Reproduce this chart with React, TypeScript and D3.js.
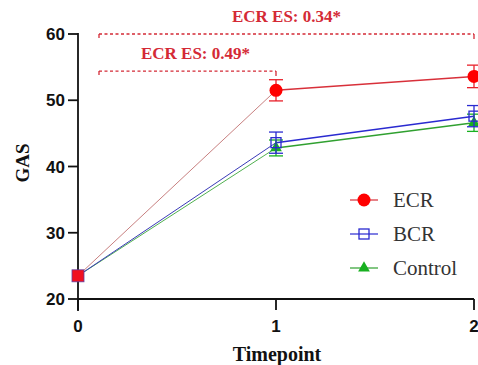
import React from "react";
import * as d3 from "d3";

// chart values
const timepoints = [0, 1, 2];
const groups = ["ECR", "BCR", "Control"];
const ecrMean = [23.5, 51.5, 53.6];
const ecrErr = [0, 1.6, 1.7];
const bcrMean = [23.5, 43.6, 47.6];
const bcrErr = [0, 1.6, 1.6];
const controlMean = [23.5, 42.8, 46.6];
const controlErr = [0, 1.2, 1.3];
const yTicks = [20, 30, 40, 50, 60];
const annotations = [
  { from: 0, to: 2, level: 60, label: "ECR ES: 0.34*" },
  { from: 0, to: 1, level: 54.4, label: "ECR ES: 0.49*" },
];

const W = 478;
const H = 365;
const annoColor = "#d42a36";
const serif = { fontFamily: "Liberation Serif" };
const sans = { fontFamily: "Liberation Sans" };

const series = [
  { name: groups[0], mean: ecrMean, err: ecrErr, color: "#e8202a", line: "#d8303a", first: "#c88080", shape: "circle" },
  { name: groups[1], mean: bcrMean, err: bcrErr, color: "#2a2ad0", line: "#2a2ad0", first: "#3a3ab8", shape: "square" },
  { name: groups[2], mean: controlMean, err: controlErr, color: "#18b020", line: "#30a030", first: "#50b050", shape: "triangle" },
];

function Marker({ shape, x, y, color }: { shape: string; x: number; y: number; color: string }) {
  if (shape === "circle") return <circle cx={x} cy={y} r={6.5} fill="#ff0000" />;
  if (shape === "square")
    return <rect x={x - 5} y={y - 5} width={10} height={10} fill="none" stroke={color} strokeWidth={1.3} />;
  const tri = d3.symbol().type(d3.symbolTriangle).size(60)();
  return <path d={tri || ""} transform={`translate(${x},${y})`} fill={color} />;
}

export default function App() {
  const x = d3.scaleLinear().domain([0, 2]).range([78, 474]);
  const y = d3.scaleLinear().domain([20, 60]).range([299, 34]);
  const lineGen = d3
    .line<[number, number]>()
    .x((d) => x(d[0]))
    .y((d) => y(d[1]));
  const pts = (mean: number[]) => timepoints.map((t, i) => [t, mean[i]] as [number, number]);

  // draw order: control, bcr, ecr on top
  const drawOrder = [series[2], series[1], series[0]];

  return (
    <svg width={W} height={H} style={{ position: "absolute", left: 0, top: 0, background: "#fff" }}>
      {/* y axis */}
      <line x1={x(0)} x2={x(0)} y1={y(60) - 1} y2={y(20) + 12} stroke="#111" strokeWidth={1.8} />
      {yTicks.map((t) => (
        <g key={t}>
          <line x1={x(0) - 10} x2={x(0)} y1={y(t)} y2={y(t)} stroke="#111" strokeWidth={1.8} />
          <text
            x={x(0) - 13}
            y={y(t)}
            dy="0.36em"
            textAnchor="end"
            style={sans}
            fontWeight="bold"
            fontSize={17}
            fill="#111"
          >
            {t}
          </text>
        </g>
      ))}
      {/* x axis */}
      <line x1={x(0)} x2={x(2)} y1={y(20)} y2={y(20)} stroke="#111" strokeWidth={1.8} />
      {timepoints.map((t) => (
        <g key={t}>
          <line x1={x(t)} x2={x(t)} y1={y(20)} y2={y(20) + 11} stroke="#111" strokeWidth={1.8} />
          <text
            x={x(t)}
            y={y(20) + 33}
            textAnchor="middle"
            style={sans}
            fontWeight="bold"
            fontSize={17}
            fill="#111"
          >
            {t}
          </text>
        </g>
      ))}
      <text x={277} y={361} textAnchor="middle" style={serif} fontWeight="bold" fontSize={20} fill="#111">
        Timepoint
      </text>
      <text
        transform={`translate(29,${163}) rotate(-90)`}
        textAnchor="middle"
        style={serif}
        fontWeight="bold"
        fontSize={19}
        fill="#111"
      >
        GAS
      </text>

      {/* annotations */}
      {annotations.map((a) => {
        const ly = y(a.level);
        const x1 = x(a.from) + 21;
        const x2 = x(a.to);
        return (
          <g key={a.label} stroke={annoColor} strokeWidth={1.3}>
            <line x1={x1} x2={x2} y1={ly} y2={ly} strokeDasharray="3,2.5" />
            <line x1={x1} x2={x1} y1={ly} y2={ly + 4} />
            <line x1={x2} x2={x2} y1={ly} y2={ly + 5} />
            <text
              x={(x1 + x2) / 2 + (a.to === 2 ? 0 : 8)}
              y={ly - 12}
              textAnchor="middle"
              style={serif}
              fontWeight="bold"
              fontSize={17}
              fill={annoColor}
              stroke="none"
            >
              {a.label}
            </text>
          </g>
        );
      })}

      {/* lines */}
      {drawOrder.map((s) => {
        const p = pts(s.mean);
        return (
          <g key={s.name}>
            <path d={lineGen(p.slice(0, 2)) || ""} fill="none" stroke={s.first} strokeWidth={1} />
            <path d={lineGen(p.slice(1)) || ""} fill="none" stroke={s.line} strokeWidth={1.5} />
          </g>
        );
      })}

      {/* error bars + markers */}
      {drawOrder.map((s) => (
        <g key={s.name + "m"}>
          {s.mean.map((m, i) =>
            i === 0 ? null : (
              <g key={i} stroke={s.color} strokeWidth={1.3}>
                <line x1={x(timepoints[i])} x2={x(timepoints[i])} y1={y(m - s.err[i])} y2={y(m + s.err[i])} />
                <line x1={x(timepoints[i]) - 7} x2={x(timepoints[i]) + 7} y1={y(m + s.err[i])} y2={y(m + s.err[i])} />
                <line x1={x(timepoints[i]) - 7} x2={x(timepoints[i]) + 7} y1={y(m - s.err[i])} y2={y(m - s.err[i])} />
              </g>
            )
          )}
          {s.mean.map((m, i) =>
            i === 0 ? null : <Marker key={i} shape={s.shape} x={x(timepoints[i])} y={y(m)} color={s.color} />
          )}
        </g>
      ))}
      {/* shared baseline point */}
      <rect
        x={x(0) - 6}
        y={y(ecrMean[0]) - 6}
        width={12}
        height={12}
        fill="#f01020"
        stroke="#6040a0"
        strokeWidth={0.8}
      />

      {/* legend */}
      {series.map((s, i) => {
        const ly = 200 + i * 34;
        return (
          <g key={s.name + "l"}>
            <line x1={350} x2={378} y1={ly} y2={ly} stroke={s.line} strokeWidth={1.2} />
            <Marker shape={s.shape} x={364} y={ly} color={s.color} />
            <text x={393} y={ly} dy="0.33em" style={serif} fontSize={21} fill="#333">
              {s.name}
            </text>
          </g>
        );
      })}
    </svg>
  );
}
